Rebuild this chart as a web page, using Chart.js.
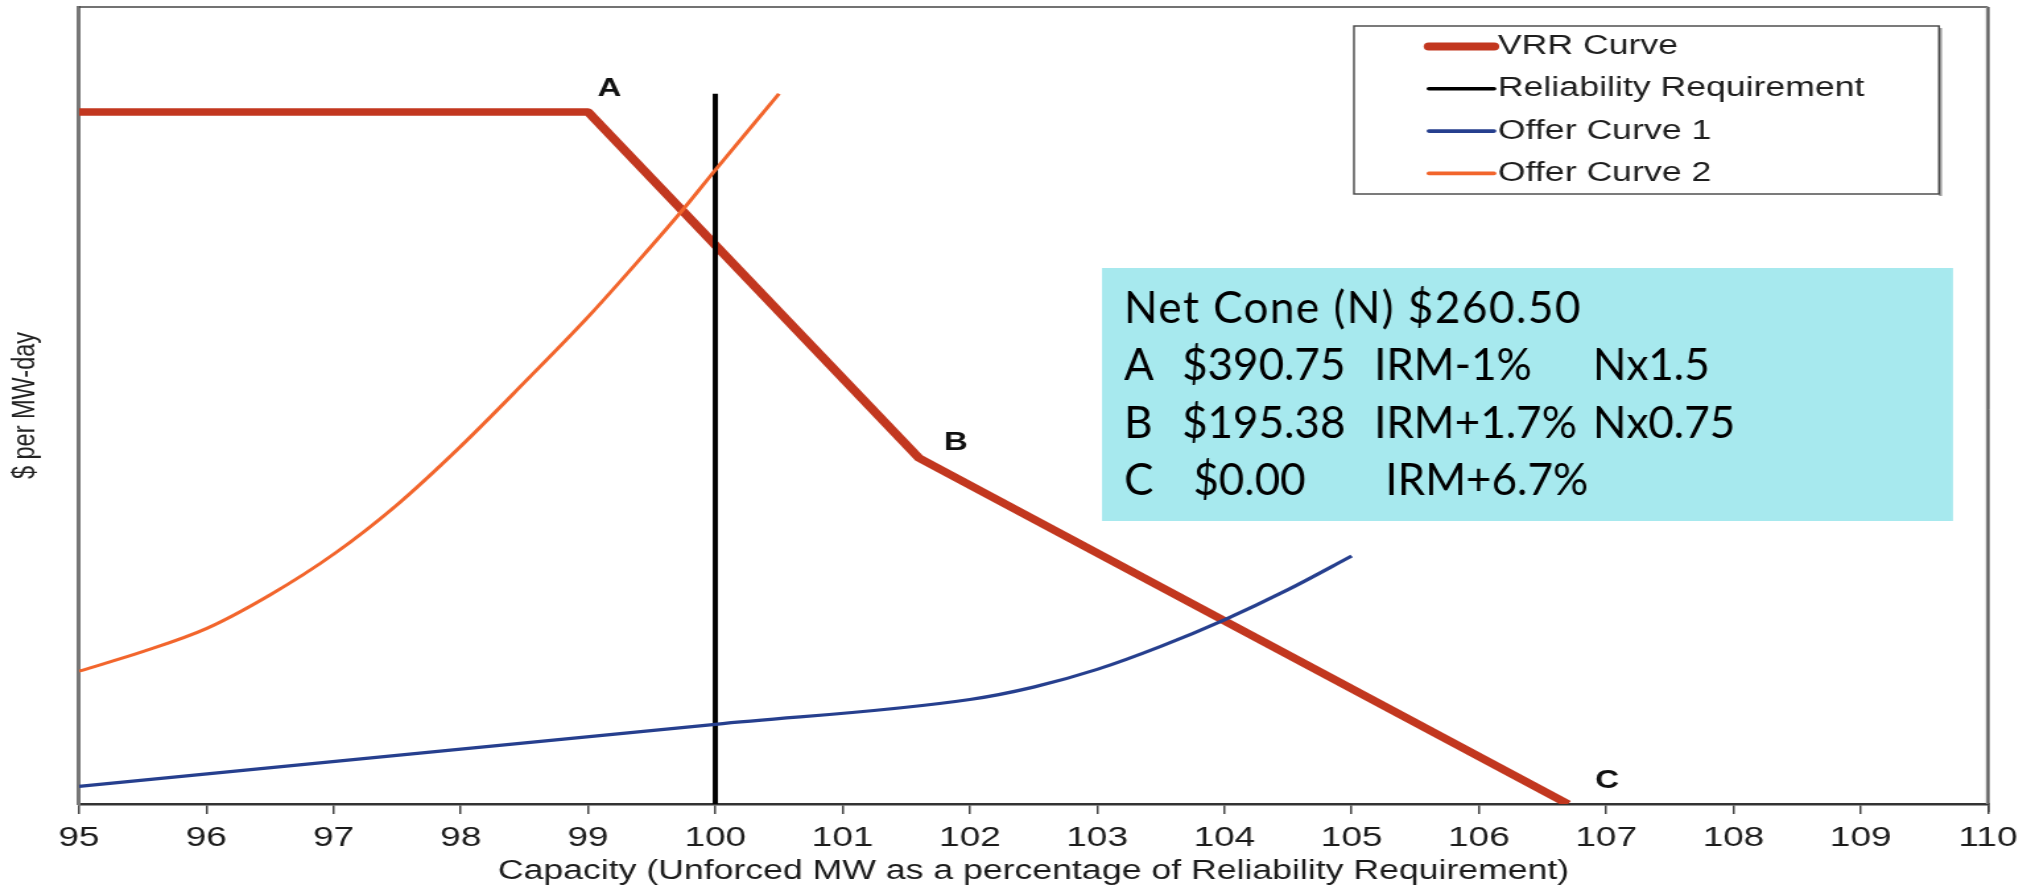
<!DOCTYPE html>
<html>
<head>
<meta charset="utf-8">
<title>VRR Curve</title>
<script src="https://cdn.jsdelivr.net/npm/chart.js@4.4.1/dist/chart.umd.min.js"></script>
<style>
    html, body { margin: 0; padding: 0; background: #fff; overflow: hidden; }
    #wrap { width: 2031px; height: 891px; overflow: hidden; }
    /* the source picture is a horizontally stretched image, so stretch the canvas the same way */
    #vrrChart { transform: scaleX(1.31968); transform-origin: 0 0; }
</style>
</head>
<body>
<div id="wrap"><canvas id="vrrChart" width="1539" height="891"></canvas></div>
<script>
var stretch = 2031 / 1539;

// VRR curve corner points (A, B, C are the 2nd..4th points)
var vrrX = [95, 99, 101.6, 106.7];
var vrrY = [390.75, 390.75, 195.38, 0];
var vrrPointNames = ['A', 'B', 'C'];

// reliability requirement (vertical line)
var reqX = [100, 100];
var reqY = [0, 401];

// offer curves
var offer1X = [95, 98, 100, 102, 102.5, 103, 103.5, 104, 104.5, 105];
var offer1Y = [10, 31, 45, 59, 66, 76, 89, 104, 121, 140];
var offer2X = [95, 95.5, 96, 96.5, 97, 97.5, 98, 98.5, 99, 99.4, 99.75, 100, 100.5];
var offer2Y = [75, 86, 99, 118, 141, 169, 202, 238, 275, 307, 336, 358, 401];

var xTickValues = [95, 96, 97, 98, 99, 100, 101, 102, 103, 104, 105, 106, 107, 108, 109, 110];
var yMax = 450;

var seriesNames = ['VRR Curve', 'Reliability Requirement', 'Offer Curve 1', 'Offer Curve 2'];
var xTitle = 'Capacity (Unforced MW as a percentage of Reliability Requirement)';
var yTitle = '$ per MW-day';

var noteRows = [
    ['Net Cone (N) $260.50'],
    ['A', '$390.75', 'IRM-1%', 'Nx1.5'],
    ['B', '$195.38', 'IRM+1.7%', 'Nx0.75'],
    ['C', ' $0.00', ' IRM+6.7%']
];

function toPoints(xs, ys) {
    return xs.map(function(x, i) { return { x: x, y: ys[i] }; });
}

var axisFont = "'Liberation Sans', Arial, sans-serif";

// top and right edges of the plot box
var framePlugin = {
    id: 'frame',
    beforeDatasetsDraw: function(chart) {
        var ctx = chart.ctx, ca = chart.chartArea;
        ctx.save();
        ctx.strokeStyle = '#444';
        ctx.lineWidth = 1.5;
        ctx.beginPath();
        ctx.moveTo(ca.left, ca.top);
        ctx.lineTo(ca.right, ca.top);
        ctx.stroke();
        ctx.strokeStyle = '#8a8a8a';
        ctx.lineWidth = 2.2;
        ctx.beginPath();
        ctx.moveTo(ca.right - 0.5, ca.top);
        ctx.lineTo(ca.right - 0.5, ca.bottom);
        ctx.stroke();
        ctx.strokeStyle = '#333';
        ctx.lineWidth = 1;
        ctx.beginPath();
        ctx.moveTo(ca.right + 0.6, ca.top);
        ctx.lineTo(ca.right + 0.6, ca.bottom + 8);
        ctx.stroke();
        ctx.restore();
    }
};

// A / B / C next to the VRR corners
var pointLabelPlugin = {
    id: 'pointLabels',
    afterDatasetsDraw: function(chart) {
        var ctx = chart.ctx;
        var meta = chart.getDatasetMeta(0);
        var offsets = [[21.5, -23], [37, -15], [39, -23]]; // screen px
        ctx.save();
        ctx.font = 'bold 25px ' + axisFont;
        ctx.fillStyle = '#111';
        ctx.textAlign = 'center';
        ctx.textBaseline = 'middle';
        vrrPointNames.forEach(function(name, i) {
            var pt = meta.data[i + 1];
            ctx.fillText(name, pt.x + offsets[i][0] / stretch, pt.y + offsets[i][1]);
        });
        ctx.restore();
    }
};

// boxed legend in the top right corner
var legendBoxPlugin = {
    id: 'legendBox',
    afterDraw: function(chart) {
        var ctx = chart.ctx, ca = chart.chartArea;
        var right = ca.right - 49 / stretch;
        var left = right - 585 / stretch;
        var top = 26, bottom = 194;
        ctx.save();
        ctx.fillStyle = '#fff';
        ctx.fillRect(left, top, right - left, bottom - top);
        ctx.fillStyle = '#999';
        ctx.fillRect(right, top + 2, 3 / stretch, bottom - top);
        ctx.strokeStyle = '#444';
        ctx.lineWidth = 1.4;
        ctx.strokeRect(left, top, right - left, bottom - top);

        ctx.font = '27px ' + axisFont;
        ctx.textBaseline = 'middle';
        ctx.fillStyle = '#1e1e1e';
        chart.data.datasets.forEach(function(ds, i) {
            var y = 46.5 + i * 42.3;
            ctx.strokeStyle = ds.borderColor;
            ctx.lineWidth = i === 0 ? 8 : 3.6;
            ctx.lineCap = 'round';
            ctx.beginPath();
            ctx.moveTo(left + 75 / stretch, y);
            ctx.lineTo(left + 140 / stretch, y);
            ctx.stroke();
            ctx.fillText(ds.label, left + 144 / stretch, y);
        });
        ctx.restore();
    }
};

// cyan note box, its text is not stretched
var notePlugin = {
    id: 'noteBox',
    afterDraw: function(chart) {
        var ctx = chart.ctx;
        var right = chart.chartArea.right * stretch - 35;
        var width = 851;
        var left = right - width;
        var cols = [22, 80, 272, 491];
        ctx.save();
        ctx.scale(1 / stretch, 1);
        ctx.fillStyle = '#A7E9EE';
        ctx.fillRect(left, 268, width, 253);
        ctx.fillStyle = '#000';
        ctx.font = '44px Lato, sans-serif';
        ctx.textBaseline = 'alphabetic';
        noteRows.forEach(function(row, r) {
            // the first line is set a little wider in the original
            ctx.letterSpacing = r === 0 ? '1.5px' : '0px';
            row.forEach(function(txt, c) {
                ctx.fillText(txt, left + cols[c], 323 + r * 57.3);
            });
        });
        ctx.restore();
    }
};

var chart = new Chart(document.getElementById('vrrChart').getContext('2d'), {
    type: 'line',
    data: {
        datasets: [
            {
                label: seriesNames[0],
                data: toPoints(vrrX, vrrY),
                borderColor: '#C2371F',
                borderWidth: 7.5,
                borderJoinStyle: 'round',
                tension: 0,
                order: 4
            },
            {
                label: seriesNames[1],
                data: toPoints(reqX, reqY),
                borderColor: '#000000',
                borderWidth: 4,
                tension: 0,
                order: 3
            },
            {
                label: seriesNames[2],
                data: toPoints(offer1X, offer1Y),
                borderColor: '#263F8E',
                borderWidth: 3.2,
                cubicInterpolationMode: 'monotone',
                order: 2
            },
            {
                label: seriesNames[3],
                data: toPoints(offer2X, offer2Y),
                borderColor: '#F2652C',
                borderWidth: 3,
                cubicInterpolationMode: 'monotone',
                order: 1
            }
        ]
    },
    options: {
        responsive: false,
        animation: false,
        devicePixelRatio: 1,
        elements: { point: { radius: 0, hoverRadius: 0 } },
        layout: { padding: { top: 7, right: 32.6, bottom: 0, left: 0 } },
        plugins: {
            legend: { display: false },
            tooltip: { enabled: false }
        },
        scales: {
            x: {
                type: 'linear',
                min: xTickValues[0],
                max: xTickValues[xTickValues.length - 1],
                afterBuildTicks: function(axis) {
                    axis.ticks = xTickValues.map(function(v) { return { value: v }; });
                },
                afterFit: function(scale) { scale.height = 87; },
                grid: {
                    display: true,
                    drawOnChartArea: false,
                    drawTicks: true,
                    tickLength: 10,
                    color: '#444',
                    lineWidth: 1.5
                },
                border: { display: true, color: '#333', width: 2.5 },
                ticks: {
                    autoSkip: false,
                    maxRotation: 0,
                    padding: 7,
                    color: '#1c1c1c',
                    font: { family: axisFont, size: 28 }
                },
                title: {
                    display: true,
                    text: xTitle,
                    color: '#1c1c1c',
                    font: { family: axisFont, size: 27 },
                    padding: { top: 0, bottom: 3 }
                }
            },
            y: {
                type: 'linear',
                min: 0,
                max: yMax,
                afterFit: function(scale) { scale.width = 79 / stretch; },
                grid: { display: false, drawTicks: false },
                border: { display: true, color: '#777', width: 3 },
                ticks: { display: false },
                title: {
                    display: true,
                    text: yTitle,
                    color: '#222',
                    font: { family: axisFont, size: 23.5 },
                    padding: { top: 5, bottom: 0 }
                }
            }
        }
    },
    plugins: [framePlugin, pointLabelPlugin, legendBoxPlugin, notePlugin]
});
</script>
</body>
</html>
